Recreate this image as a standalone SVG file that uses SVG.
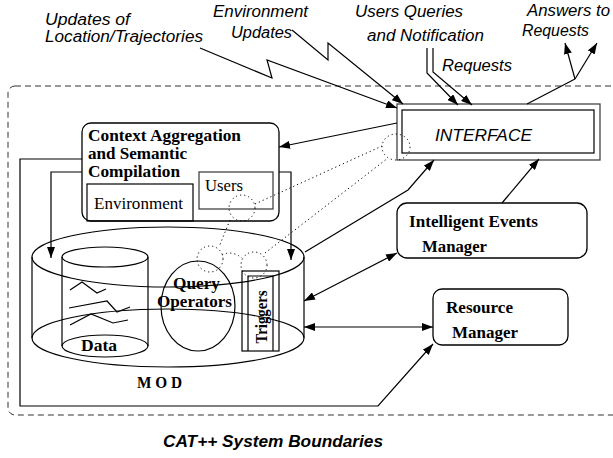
<svg xmlns="http://www.w3.org/2000/svg" width="613" height="458" viewBox="0 0 613 458">
  <style>
    .ln { fill: none; stroke: #000; stroke-width: 1.2; }
    .box { fill: #fff; stroke: #000; stroke-width: 1.3; }
    .grey { fill: none; stroke: #444; stroke-width: 1.3; }
    .dot { fill: none; stroke: #000; stroke-width: 1; stroke-dasharray: 1.2 3; }
    .bound { fill: none; stroke: #333; stroke-width: 1; stroke-dasharray: 6 4; }
    .sans { font-family: "Liberation Sans", Arial, sans-serif; font-style: italic; font-size: 16px; fill: #000; }
    .serif { font-family: "Liberation Serif", "Times New Roman", serif; font-size: 17px; fill: #000; }
    .b { font-weight: bold; }
    .arrow { marker-end: url(#ah); }
    .both { marker-start: url(#ah); marker-end: url(#ah); }
  </style>
  <defs>
    <marker id="ah" markerUnits="userSpaceOnUse" markerWidth="11" markerHeight="8" refX="11" refY="4" orient="auto-start-reverse">
      <path d="M0,0 L11,4 L0,8 z" fill="#000"/>
    </marker>
  </defs>

  <rect fill="#fff" x="0" y="0" width="613" height="458"/>

  <!-- system boundary -->
  <rect class="bound" x="8" y="86" width="630" height="329" rx="7"/>
  <text class="sans b" x="163" y="447" textLength="220" lengthAdjust="spacingAndGlyphs">CAT++ System Boundaries</text>

  <!-- input labels -->
  <g id="labels">
    <text class="sans" x="45" y="25" textLength="85" lengthAdjust="spacingAndGlyphs">Updates of</text>
    <text class="sans" x="45" y="42" textLength="158" lengthAdjust="spacingAndGlyphs">Location/Trajectories</text>
    <text class="sans" x="213" y="17" textLength="95" lengthAdjust="spacingAndGlyphs">Environment</text>
    <text class="sans" x="231" y="38" textLength="61" lengthAdjust="spacingAndGlyphs">Updates</text>
    <text class="sans" x="355" y="17" textLength="108" lengthAdjust="spacingAndGlyphs">Users Queries</text>
    <text class="sans" x="367" y="41" textLength="117" lengthAdjust="spacingAndGlyphs">and Notification</text>
    <text class="sans" x="442" y="71" textLength="70" lengthAdjust="spacingAndGlyphs">Requests</text>
    <text class="sans" x="527" y="16" textLength="83" lengthAdjust="spacingAndGlyphs">Answers to</text>
    <text class="sans" x="522" y="36" textLength="67" lengthAdjust="spacingAndGlyphs">Requests</text>
  </g>

  <!-- MOD frame lines running behind the context box -->
  <g id="connectors-back">
    <path class="ln arrow" d="M82,159 L20,159 L20,406 L378,406 L433,344"/>
    <path class="ln both" d="M51,258 L51,172 L291,172 L291,260"/>
  </g>

  <!-- Context Aggregation and Semantic Compilation -->
  <g id="context">
    <rect class="box" x="82" y="123" width="197" height="98" rx="9"/>
    <text class="serif b" x="88" y="141" textLength="153" lengthAdjust="spacingAndGlyphs">Context Aggregation</text>
    <text class="serif b" x="88" y="159" textLength="99" lengthAdjust="spacingAndGlyphs">and Semantic</text>
    <text class="serif b" x="88" y="177" textLength="92" lengthAdjust="spacingAndGlyphs">Compilation</text>
    <g id="environment">
      <rect fill="none" stroke="#000" stroke-width="1.2" x="87" y="184" width="106" height="37"/>
      <text class="serif" x="94" y="209" textLength="89" lengthAdjust="spacingAndGlyphs">Environment</text>
    </g>
    <g id="users">
      <rect class="grey" x="199" y="172" width="74" height="37"/>
      <text class="serif" x="205" y="191" textLength="38" lengthAdjust="spacingAndGlyphs">Users</text>
    </g>
  </g>

  <!-- MOD database -->
  <g id="mod">
    <ellipse class="ln" cx="168" cy="257" rx="136" ry="30"/>
    <ellipse class="ln" cx="168" cy="338" rx="136" ry="29"/>
    <line class="ln" x1="32" y1="257" x2="32" y2="338"/>
    <line class="ln" x1="304" y1="257" x2="304" y2="338"/>
    <text class="serif b" x="137" y="388" font-size="13" textLength="45" lengthAdjust="spacingAndGlyphs">M O D</text>

    <g id="data">
      <ellipse class="ln" cx="105" cy="257" rx="43" ry="10"/>
      <ellipse class="ln" cx="105" cy="346" rx="43" ry="11"/>
      <line class="ln" x1="62" y1="257" x2="62" y2="346"/>
      <line class="ln" x1="148" y1="257" x2="148" y2="346"/>
      <polyline class="ln" points="70,290 82,282 97,293 106,289"/>
      <polyline class="ln" points="69,308 107,301 117,312 130,307"/>
      <polyline class="ln" points="70,325 91,314 113,323 128,320"/>
      <text class="serif b" x="81" y="351" textLength="36" lengthAdjust="spacingAndGlyphs">Data</text>
    </g>

    <g id="query-operators">
      <ellipse class="ln" cx="198" cy="306" rx="37" ry="45"/>
      <text class="serif b" x="173" y="289" textLength="47" lengthAdjust="spacingAndGlyphs">Query</text>
      <text class="serif b" x="157" y="307" textLength="75" lengthAdjust="spacingAndGlyphs">Operators</text>
    </g>

    <g id="triggers">
      <rect class="ln" x="242" y="271" width="37" height="80"/>
      <path class="ln" d="M248,351 L248,276 L273,276 L273,351"/>
      <text class="serif b" font-size="15" transform="translate(267,317) rotate(-90)" text-anchor="middle" textLength="53" lengthAdjust="spacingAndGlyphs">Triggers</text>
    </g>
  </g>

  <!-- INTERFACE -->
  <g id="interface">
    <rect class="grey" x="397" y="104" width="203" height="56" fill="#fff"/>
    <rect fill="none" stroke="#000" stroke-width="1.2" x="402" y="110" width="192" height="43"/>
    <text class="sans" x="435" y="141" textLength="97" lengthAdjust="spacingAndGlyphs">INTERFACE</text>
  </g>

  <!-- Intelligent Events Manager -->
  <g id="events-manager">
    <rect class="box" x="397" y="203" width="190" height="55" rx="10"/>
    <text class="serif b" x="409" y="227" textLength="129" lengthAdjust="spacingAndGlyphs">Intelligent Events</text>
    <text class="serif b" x="422" y="252" textLength="65" lengthAdjust="spacingAndGlyphs">Manager</text>
  </g>

  <!-- Resource Manager -->
  <g id="resource-manager">
    <rect class="box" x="433" y="289" width="135" height="56" rx="9"/>
    <text class="serif b" x="446" y="313" textLength="67" lengthAdjust="spacingAndGlyphs">Resource</text>
    <text class="serif b" x="452" y="338" textLength="66" lengthAdjust="spacingAndGlyphs">Manager</text>
  </g>

  <!-- dotted links between users, operators, triggers and interface -->
  <g id="dotted-links">
    <ellipse class="dot" cx="396" cy="147" rx="14" ry="13"/>
    <circle class="dot" cx="242" cy="208" r="13"/>
    <circle class="dot" cx="210" cy="259" r="13"/>
    <circle class="dot" cx="254" cy="265" r="13"/>
    <line class="dot" x1="255" y1="204" x2="382" y2="146"/>
    <line class="dot" x1="265" y1="253" x2="388" y2="158"/>
    <line class="dot" x1="230" y1="220" x2="219" y2="247"/>
    <path class="dot" d="M222,255 Q232,250 242,258"/>
  </g>

  <!-- connectors -->
  <g id="connectors">
    <path class="ln arrow" d="M200,48 L272,78 L267,60 L397,108"/>
    <path class="ln arrow" d="M292,30 L328,60 L328,43 L403,104"/>
    <path class="ln arrow" d="M427,48 L427,73 L458,105"/>
    <path class="ln arrow" d="M433,48 L433,72 L472,105"/>
    <path class="ln" d="M527,104 L575,79"/>
    <path class="ln arrow" d="M575,79 L565,43"/>
    <path class="ln arrow" d="M575,79 L597,43"/>
    <path class="ln arrow" d="M397,123 L279,147"/>
    <path class="ln arrow" d="M305,252 L408,190 L434,160"/>
    <path class="ln arrow" d="M502,203 L539,159"/>
    <path class="ln both" d="M304,301 L397,253"/>
    <path class="ln both" d="M304,327 L433,327"/>
  </g>
</svg>
